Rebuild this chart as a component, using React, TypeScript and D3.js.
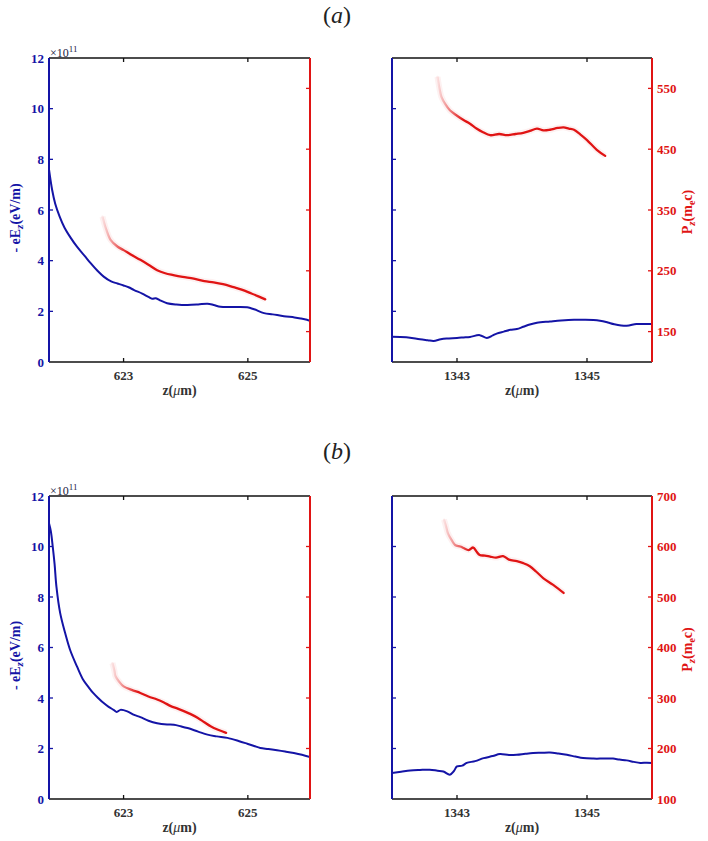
import React from 'react';
import * as d3 from 'd3';

const BLUE = '#1414a6';
const RED = '#e01414';
const FONT = '"Liberation Serif", "Times New Roman", serif';

// tick values
const zTicksLow = [623, 625];
const zTicksHigh = [1343, 1345];
const ezTicks = [0, 2, 4, 6, 8, 10, 12];
const pzTicksA = [150, 250, 350, 450, 550];
const pzTicksB = [100, 200, 300, 400, 500, 600, 700];

// (a) -eEz in 1e11 eV/m, Pz in m_e c
const ezTopLeft: [number, number][] = [
  [621.8, 7.6], [621.85, 6.8], [621.9, 6.25], [621.97, 5.75], [622.05, 5.3], [622.15, 4.9],
  [622.25, 4.55], [622.37, 4.2], [622.47, 3.9], [622.58, 3.6], [622.68, 3.37], [622.8, 3.18],
  [622.9, 3.1], [623.0, 3.02], [623.08, 2.95], [623.17, 2.84], [623.3, 2.7], [623.4, 2.57],
  [623.46, 2.5], [623.52, 2.52], [623.6, 2.42], [623.7, 2.32], [623.85, 2.27], [624.03, 2.25],
  [624.2, 2.27], [624.35, 2.3], [624.45, 2.25], [624.56, 2.18], [624.75, 2.17], [624.99, 2.16],
  [625.1, 2.08], [625.26, 1.93], [625.4, 1.88], [625.58, 1.81], [625.75, 1.76], [625.85, 1.72],
  [625.95, 1.67], [626.0, 1.63],
];
const pzTopLeft: [number, number][] = [
  [622.66, 339], [622.72, 318], [622.79, 301], [622.9, 290], [623.0, 284], [623.13, 276],
  [623.27, 268], [623.4, 260], [623.54, 251], [623.67, 246], [623.8, 243], [623.95, 240],
  [624.13, 237], [624.3, 233], [624.45, 231], [624.6, 228], [624.77, 223], [624.9, 219],
  [625.05, 213], [625.17, 208], [625.28, 203],
];
const ezTopRight: [number, number][] = [
  [1342.0, 1.0], [1342.22, 0.98], [1342.43, 0.9], [1342.55, 0.86], [1342.64, 0.83], [1342.75, 0.9],
  [1342.84, 0.93], [1343.0, 0.95], [1343.1, 0.97], [1343.2, 0.99], [1343.35, 1.06], [1343.46, 0.95],
  [1343.55, 1.05], [1343.61, 1.12], [1343.72, 1.2], [1343.82, 1.27], [1343.92, 1.3], [1344.02, 1.39],
  [1344.12, 1.48], [1344.23, 1.55], [1344.43, 1.6], [1344.6, 1.64], [1344.8, 1.67], [1344.95, 1.67],
  [1345.1, 1.66], [1345.2, 1.63], [1345.32, 1.56], [1345.42, 1.49], [1345.61, 1.43], [1345.76, 1.5],
  [1345.9, 1.5], [1346.0, 1.5],
];
const pzTopRight: [number, number][] = [
  [1342.7, 569], [1342.73, 550], [1342.76, 536], [1342.82, 524], [1342.89, 514], [1343.0, 505],
  [1343.1, 498], [1343.2, 492], [1343.3, 484], [1343.4, 478], [1343.51, 473], [1343.65, 475],
  [1343.77, 473], [1343.9, 475], [1344.02, 477], [1344.12, 480], [1344.23, 484], [1344.33, 481],
  [1344.43, 482], [1344.55, 485], [1344.64, 486], [1344.72, 484], [1344.8, 482], [1344.9, 474],
  [1345.0, 465], [1345.15, 449], [1345.28, 439],
];

// (b)
const ezBottomLeft: [number, number][] = [
  [621.8, 10.92], [621.83, 10.6], [621.86, 10.0], [621.89, 9.3], [621.92, 8.4], [621.98, 7.36],
  [622.06, 6.57], [622.14, 5.9], [622.25, 5.25], [622.35, 4.72], [622.43, 4.45], [622.51, 4.2],
  [622.6, 3.98], [622.68, 3.8], [622.76, 3.65], [622.84, 3.53], [622.89, 3.45], [622.95, 3.53],
  [623.06, 3.47], [623.17, 3.33], [623.27, 3.24], [623.4, 3.1], [623.54, 3.0], [623.7, 2.95],
  [623.81, 2.94], [623.92, 2.88], [624.03, 2.81], [624.2, 2.67], [624.35, 2.55], [624.5, 2.48],
  [624.67, 2.42], [624.85, 2.3], [624.99, 2.19], [625.1, 2.1], [625.2, 2.02], [625.33, 1.98],
  [625.47, 1.93], [625.6, 1.88], [625.74, 1.82], [625.87, 1.75], [626.0, 1.66],
];
const pzBottomLeft: [number, number][] = [
  [622.82, 369], [622.85, 355], [622.87, 343], [622.93, 332], [623.0, 323], [623.13, 316],
  [623.27, 310], [623.4, 303], [623.54, 297], [623.65, 291], [623.76, 284], [623.87, 279],
  [623.97, 274], [624.08, 268], [624.19, 261], [624.3, 252], [624.4, 244], [624.52, 237],
  [624.65, 231],
];
const ezBottomRight: [number, number][] = [
  [1342.0, 1.03], [1342.14, 1.08], [1342.28, 1.13], [1342.43, 1.15], [1342.58, 1.16], [1342.7, 1.12],
  [1342.79, 1.09], [1342.89, 0.96], [1342.95, 1.1], [1343.0, 1.29], [1343.08, 1.32], [1343.15, 1.43],
  [1343.28, 1.5], [1343.41, 1.62], [1343.55, 1.7], [1343.66, 1.78], [1343.8, 1.74], [1343.92, 1.75],
  [1344.05, 1.79], [1344.17, 1.82], [1344.3, 1.83], [1344.43, 1.84], [1344.56, 1.8], [1344.69, 1.75],
  [1344.82, 1.68], [1344.94, 1.62], [1345.1, 1.6], [1345.25, 1.6], [1345.4, 1.6], [1345.5, 1.56],
  [1345.61, 1.53], [1345.72, 1.47], [1345.82, 1.43], [1345.92, 1.44], [1346.0, 1.43],
];
const pzBottomRight: [number, number][] = [
  [1342.8, 653], [1342.83, 640], [1342.86, 626], [1342.92, 612], [1342.97, 603], [1343.05, 600],
  [1343.1, 597], [1343.18, 593], [1343.25, 598], [1343.3, 590], [1343.35, 583], [1343.43, 582],
  [1343.51, 580], [1343.6, 578], [1343.71, 581], [1343.8, 574], [1343.92, 571], [1344.02, 567],
  [1344.12, 561], [1344.22, 550], [1344.33, 537], [1344.48, 524], [1344.64, 508],
];

type Pt = [number, number];

function Panel(props: {
  id: string; x0: number; x1: number; y0: number; y1: number;
  zDomain: [number, number]; zTicks: number[];
  pDomain: [number, number]; pTicks: number[];
  ez: Pt[]; pz: Pt[]; leftLabels: boolean; rightLabels: boolean;
}) {
  const { id, x0, x1, y0, y1, zDomain, zTicks, pDomain, pTicks, ez, pz, leftLabels, rightLabels } = props;
  const x = d3.scaleLinear().domain(zDomain).range([x0, x1]);
  const yE = d3.scaleLinear().domain([0, 12]).range([y1, y0]);
  const yP = d3.scaleLinear().domain(pDomain).range([y1, y0]);
  const lineE = d3.line<Pt>().x(d => x(d[0])).y(d => yE(d[1])).curve(d3.curveCatmullRom);
  const lineP = d3.line<Pt>().x(d => x(d[0])).y(d => yP(d[1])).curve(d3.curveCatmullRom);
  const headX = x(pz[0][0]);
  const tk = 4;
  const midY = (y0 + y1) / 2;

  return (
    <g>
      <defs>
        <linearGradient id={`head-${id}`} gradientUnits="userSpaceOnUse" x1={headX} x2={headX + 26} y1={0} y2={0}>
          <stop offset="0" stopColor={RED} stopOpacity={0.08} />
          <stop offset="1" stopColor={RED} stopOpacity={1} />
        </linearGradient>
        <clipPath id={`clip-${id}`}>
          <rect x={x0} y={y0} width={x1 - x0} height={y1 - y0} />
        </clipPath>
      </defs>

      <g clipPath={`url(#clip-${id})`}>
        <path d={lineP(pz) ?? ''} fill="none" stroke={RED} strokeOpacity={0.06} strokeWidth={6} strokeLinejoin="round" />
        <path d={lineP(pz) ?? ''} fill="none" stroke={`url(#head-${id})`} strokeWidth={2.3} strokeLinejoin="round" strokeLinecap="round" />
        <path d={lineE(ez) ?? ''} fill="none" stroke={BLUE} strokeWidth={2} strokeLinejoin="round" />
      </g>

      {/* top & bottom frame */}
      <line x1={x0} x2={x1} y1={y0} y2={y0} stroke="#111" strokeWidth={1.3} />
      <line x1={x0} x2={x1} y1={y1} y2={y1} stroke="#111" strokeWidth={1.6} />
      {zTicks.map(t => (
        <g key={t}>
          <line x1={x(t)} x2={x(t)} y1={y0} y2={y0 + tk} stroke="#111" strokeWidth={1.3} />
          <line x1={x(t)} x2={x(t)} y1={y1} y2={y1 - tk} stroke="#111" strokeWidth={1.3} />
          <text x={x(t)} y={y1 + 18} textAnchor="middle" fontFamily={FONT} fontWeight="bold" fontSize={13} fill="#333">{t}</text>
        </g>
      ))}
      <text x={(x0 + x1) / 2} y={y1 + 33} textAnchor="middle" fontFamily={FONT} fontWeight="bold" fontSize={14} fill="#333">
        z(<tspan fontStyle="italic" fontWeight="normal">μ</tspan>m)
      </text>

      {/* left Ez axis */}
      <line x1={x0} x2={x0} y1={y0} y2={y1} stroke={BLUE} strokeWidth={2} />
      {ezTicks.map(t => (
        <g key={t}>
          {t > 0 && t < 12 && <line x1={x0} x2={x0 + tk} y1={yE(t)} y2={yE(t)} stroke={BLUE} strokeWidth={1.3} />}
          {leftLabels && (
            <text x={x0 - 5} y={yE(t) + 4.5} textAnchor="end" fontFamily={FONT} fontWeight="bold" fontSize={13} fill={BLUE}>{t}</text>
          )}
        </g>
      ))}
      {leftLabels && (
        <>
          <text x={x0 + 1} y={y0 - 1} fontFamily={FONT} fontSize={12} fill="#222244">
            ×10<tspan dy={-5} fontSize={9}>11</tspan>
          </text>
          <text transform={`translate(${x0 - 29}, ${midY + 8}) rotate(-90)`} textAnchor="middle" fontFamily={FONT} fontWeight="bold" fontSize={14} fill={BLUE}>
            - eE<tspan dy={3} fontStyle="italic" fontSize={11}>z</tspan><tspan dy={-3}>(eV/m)</tspan>
          </text>
        </>
      )}

      {/* right Pz axis */}
      <line x1={x1} x2={x1} y1={y0} y2={y1} stroke={RED} strokeWidth={2} />
      {pTicks.map(t => (
        <g key={t}>
          {t > pDomain[0] && t < pDomain[1] && <line x1={x1} x2={x1 - tk} y1={yP(t)} y2={yP(t)} stroke={RED} strokeWidth={1.3} />}
          {rightLabels && (
            <text x={x1 + 5} y={yP(t) + 4.5} textAnchor="start" fontFamily={FONT} fontWeight="bold" fontSize={13} fill={RED}>{t}</text>
          )}
        </g>
      ))}
      {rightLabels && (
        <text transform={`translate(${x1 + 40}, ${midY + 2}) rotate(-90)`} textAnchor="middle" fontFamily={FONT} fontWeight="bold" fontSize={14} fill={RED}>
          P<tspan dy={3} fontStyle="italic" fontSize={11}>z</tspan><tspan dy={-3}>(m</tspan><tspan dy={3} fontSize={10}>e</tspan><tspan dy={-3}>c)</tspan>
        </text>
      )}
    </g>
  );
}

export default function App() {
  const W = 708;
  const H = 841;
  return (
    <svg width={W} height={H} style={{ position: 'absolute', left: 0, top: 0, background: '#fff' }}>
      <rect width={W} height={H} fill="#fff" />
      <text x={337} y={23} textAnchor="middle" fontFamily={FONT} fontSize={24} fill="#222">
        (<tspan fontStyle="italic">a</tspan>)
      </text>
      <text x={337} y={459} textAnchor="middle" fontFamily={FONT} fontSize={24} fill="#222">
        (<tspan fontStyle="italic">b</tspan>)
      </text>

      <Panel id="a1" x0={49} x1={310} y0={58} y1={362} zDomain={[621.8, 626]} zTicks={zTicksLow}
        pDomain={[100, 600]} pTicks={pzTicksA} ez={ezTopLeft} pz={pzTopLeft} leftLabels rightLabels={false} />
      <Panel id="a2" x0={392} x1={652} y0={58} y1={362} zDomain={[1342, 1346]} zTicks={zTicksHigh}
        pDomain={[100, 600]} pTicks={pzTicksA} ez={ezTopRight} pz={pzTopRight} leftLabels={false} rightLabels />
      <Panel id="b1" x0={49} x1={310} y0={496} y1={799} zDomain={[621.8, 626]} zTicks={zTicksLow}
        pDomain={[100, 700]} pTicks={pzTicksB} ez={ezBottomLeft} pz={pzBottomLeft} leftLabels rightLabels={false} />
      <Panel id="b2" x0={392} x1={652} y0={496} y1={799} zDomain={[1342, 1346]} zTicks={zTicksHigh}
        pDomain={[100, 700]} pTicks={pzTicksB} ez={ezBottomRight} pz={pzBottomRight} leftLabels={false} rightLabels />
    </svg>
  );
}
